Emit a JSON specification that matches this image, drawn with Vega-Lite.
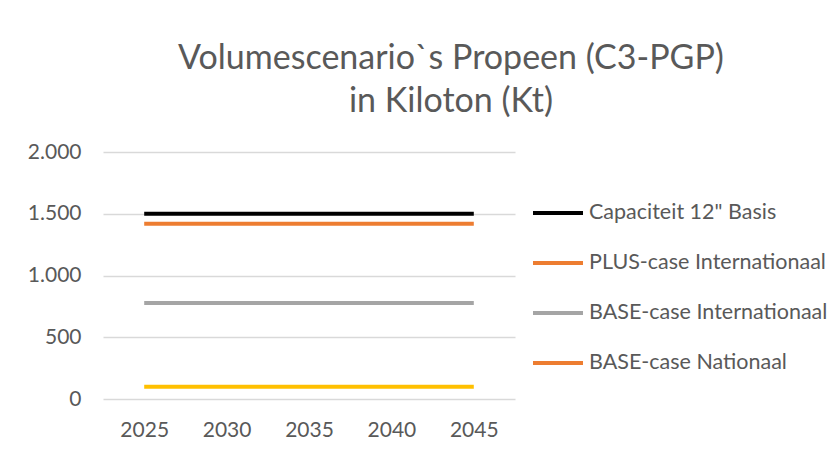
{
  "$schema": "https://vega.github.io/schema/vega-lite/v6.json",
  "width": 412,
  "height": 247,
  "autosize": "none",
  "padding": {"left": 103, "top": 152, "right": 312, "bottom": 57},
  "background": "white",
  "title": {
    "text": ["Volumescenario`s Propeen (C3-PGP)", "in Kiloton (Kt)"],
    "fontSize": 34,
    "font": "Lato",
    "fontWeight": "normal",
    "color": "#595959",
    "anchor": "middle",
    "dx": 142,
    "lineHeight": 43,
    "offset": 22
  },
  "data": {
    "values": [
      {"year": "2025", "series": "Capaciteit 12\" Basis", "kt": 1500},
      {"year": "2030", "series": "Capaciteit 12\" Basis", "kt": 1500},
      {"year": "2035", "series": "Capaciteit 12\" Basis", "kt": 1500},
      {"year": "2040", "series": "Capaciteit 12\" Basis", "kt": 1500},
      {"year": "2045", "series": "Capaciteit 12\" Basis", "kt": 1500},
      {"year": "2025", "series": "PLUS-case Internationaal", "kt": 1420},
      {"year": "2030", "series": "PLUS-case Internationaal", "kt": 1420},
      {"year": "2035", "series": "PLUS-case Internationaal", "kt": 1420},
      {"year": "2040", "series": "PLUS-case Internationaal", "kt": 1420},
      {"year": "2045", "series": "PLUS-case Internationaal", "kt": 1420},
      {"year": "2025", "series": "BASE-case Internationaal", "kt": 778},
      {"year": "2030", "series": "BASE-case Internationaal", "kt": 778},
      {"year": "2035", "series": "BASE-case Internationaal", "kt": 778},
      {"year": "2040", "series": "BASE-case Internationaal", "kt": 778},
      {"year": "2045", "series": "BASE-case Internationaal", "kt": 778},
      {"year": "2025", "series": "BASE-case Nationaal", "kt": 100},
      {"year": "2030", "series": "BASE-case Nationaal", "kt": 100},
      {"year": "2035", "series": "BASE-case Nationaal", "kt": 100},
      {"year": "2040", "series": "BASE-case Nationaal", "kt": 100},
      {"year": "2045", "series": "BASE-case Nationaal", "kt": 100}
    ]
  },
  "mark": {"type": "line", "strokeWidth": 4, "strokeCap": "butt"},
  "encoding": {
    "x": {
      "field": "year",
      "type": "ordinal",
      "scale": {"type": "point", "padding": 0.5},
      "axis": {
        "title": null,
        "labelAngle": 0,
        "ticks": false,
        "domain": false,
        "labelPadding": 20,
        "labelFontSize": 21,
        "labelFont": "Lato",
        "labelColor": "#595959"
      }
    },
    "y": {
      "field": "kt",
      "type": "quantitative",
      "scale": {"domain": [0, 2000]},
      "axis": {
        "title": null,
        "values": [0, 500, 1000, 1500, 2000],
        "labelExpr": "replace(format(datum.value, ','), ',', '.')",
        "ticks": false,
        "domain": false,
        "grid": true,
        "gridColor": "#d9d9d9",
        "gridWidth": 1.5,
        "labelPadding": 22,
        "labelFontSize": 21,
        "labelFont": "Lato",
        "labelColor": "#595959"
      }
    },
    "color": {
      "condition": {"test": "datum.series === 'BASE-case Nationaal'", "value": "#FFC000"},
      "field": "series",
      "type": "nominal",
      "scale": {
        "domain": ["Capaciteit 12\" Basis", "PLUS-case Internationaal", "BASE-case Internationaal", "BASE-case Nationaal"],
        "range": ["#000000", "#ED7D31", "#A5A5A5", "#ED7D31"]
      },
      "legend": {
        "title": null,
        "orient": "none",
        "legendX": 428,
        "legendY": 34,
        "symbolType": "stroke",
        "symbolSize": 2500,
        "symbolStrokeWidth": 4,
        "rowPadding": 12,
        "labelOffset": 4,
        "labelFontSize": 21.5,
        "labelFont": "Lato",
        "labelColor": "#595959",
        "labelLimit": 400,
        "padding": 0
      }
    }
  },
  "config": {"view": {"stroke": null}}
}
